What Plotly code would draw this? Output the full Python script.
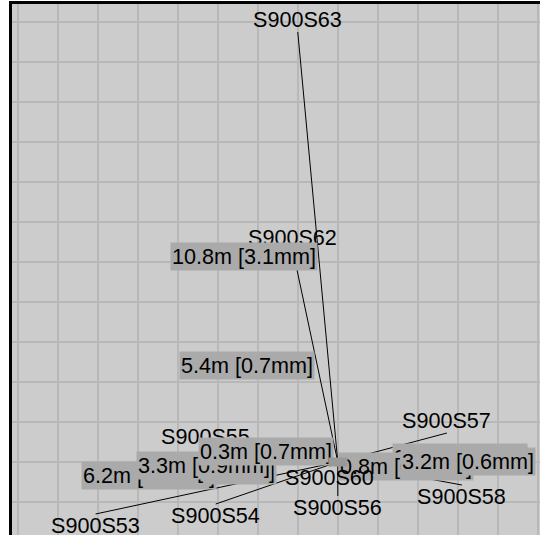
import plotly.graph_objects as go

# Station names and positions (metres, relative to the hub station)
stations = ["S900S53", "S900S54", "S900S55", "S900S57", "S900S56",
            "S900S58", "S900S60", "S900S62", "S900S63"]
station_x = [-6.05, -3.05, -3.30, 2.725, 0.0, 3.10, -0.2, -1.125, -1.00]
station_y = [-1.30, -1.05, 0.325, 0.725, -0.85, -0.575, -0.10, 5.30, 10.75]

# Distance labels on each line: distance [standard deviation]
distances = ["6.2m", "3.2m", "3.3m", "2.8m", "0.8m", "3.2m", "0.3m", "5.4m", "10.8m"]
sigmas = ["2.6mm", "1.7mm", "0.9mm", "1.0mm", "0.5mm", "0.6mm", "0.7mm", "0.7mm", "3.1mm"]

hub_x, hub_y = 0.0, 0.0

FONT = "Liberation Sans, Arial, sans-serif"
FSIZE = 21.6

line_x, line_y = [], []
for sx, sy in zip(station_x, station_y):
    line_x += [hub_x, sx, None]
    line_y += [hub_y, sy, None]

fig = go.Figure()
fig.add_trace(go.Scatter(x=line_x, y=line_y, mode="lines",
                         line=dict(color="black", width=1),
                         hoverinfo="skip", showlegend=False))

annotations = []
for name, sx, sy, d, s in zip(stations, station_x, station_y, distances, sigmas):
    mx, my = (hub_x + sx) / 2, (hub_y + sy) / 2
    up = sy > hub_y
    right = sx >= hub_x
    annotations.append(dict(
        x=mx, y=my, xref="x", yref="y", showarrow=False,
        text=f"{d} [{s}]",
        xanchor="left" if right else "right",
        yanchor="top" if up else "bottom",
        yshift=5 if up else -2,
        bgcolor="#aaaaaa", borderpad=1,
        font=dict(family=FONT, size=FSIZE, color="black")))
    annotations.append(dict(
        x=sx, y=sy, xref="x", yref="y", showarrow=False,
        text=name, xanchor="center",
        yanchor="bottom" if up else "top",
        yshift=-2 if up else 3,
        font=dict(family=FONT, size=FSIZE, color="black")))

# hub marker
annotations.append(dict(x=hub_x, y=hub_y, xref="x", yref="y", showarrow=False,
                        text=" ", width=18, height=8, bgcolor="#999999",
                        borderpad=0, font=dict(size=6)))

fig.update_layout(
    width=540, height=535,
    margin=dict(l=12, r=0, t=4, b=0),
    paper_bgcolor="white", plot_bgcolor="#cccccc",
    showlegend=False,
    annotations=annotations,
    xaxis=dict(range=[-8.1375, 5.05], dtick=1, tick0=0, showgrid=True,
               gridcolor="#b8b8b8", gridwidth=1.5, zeroline=False,
               showticklabels=False, ticks="", side="top",
               showline=True, linecolor="black", linewidth=3, mirror=False),
    yaxis=dict(range=[-1.825, 11.45], dtick=1, tick0=0, showgrid=True,
               gridcolor="#b8b8b8", gridwidth=1.5, zeroline=False,
               showticklabels=False, ticks="",
               showline=True, linecolor="black", linewidth=3, mirror=False),
)

fig.write_html("out.html",
               config={"displayModeBar": False},
               post_script="document.body.style.margin='0';"
                           "document.body.style.overflow='hidden';")
